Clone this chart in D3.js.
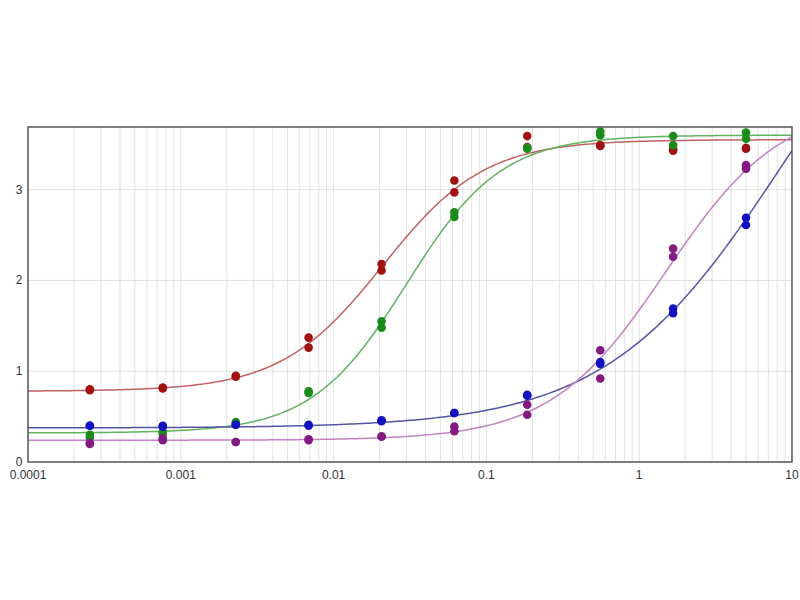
<!DOCTYPE html>
<html><head><meta charset="utf-8">
<script src="https://cdn.jsdelivr.net/npm/d3@7"></script>
<style>body{margin:0;background:#fff}svg{display:block}</style>
</head><body><svg id="c" width="800" height="600"></svg>
<script>
// Concentrations (3-fold dilution series)
const concentrations = [0.000254, 0.000762, 0.00229, 0.00686, 0.0206, 0.0617, 0.185, 0.556, 1.667, 5];
// Replicate readings per series (two per concentration)
const redRep1 = [0.79, 0.82, 0.94, 1.37, 2.18, 3.10, 3.59, 3.48, 3.45, 3.46];
const redRep2 = [0.80, 0.81, 0.95, 1.26, 2.11, 2.97, 3.47, 3.49, 3.43, 3.45];
const greenRep1 = [0.30, 0.33, 0.44, 0.78, 1.55, 2.75, 3.46, 3.64, 3.59, 3.63];
const greenRep2 = [0.27, 0.31, 0.42, 0.76, 1.48, 2.70, 3.45, 3.60, 3.49, 3.56];
const blueRep1 = [0.40, 0.40, 0.41, 0.41, 0.46, 0.54, 0.74, 1.08, 1.69, 2.69];
const blueRep2 = [0.40, 0.39, 0.41, 0.40, 0.45, 0.54, 0.73, 1.10, 1.64, 2.61];
const purpleRep1 = [0.21, 0.26, 0.22, 0.25, 0.28, 0.39, 0.63, 1.23, 2.35, 3.27];
const purpleRep2 = [0.20, 0.24, 0.22, 0.24, 0.28, 0.34, 0.52, 0.92, 2.26, 3.23];
// 4-parameter logistic fit parameters: [bottom, top, EC50, hill]
const redFit = [0.78, 3.55, 0.021, 1.3];
const greenFit = [0.32, 3.60, 0.030, 1.4];
const blueFit = [0.375, 6.255, 9, 0.75];
const purpleFit = [0.24, 3.96, 1.5, 1.15];
const xTicks = [0.0001, 0.001, 0.01, 0.1, 1, 10];
const xTickLabels = ["0.0001", "0.001", "0.01", "0.1", "1", "10"];
const yTicks = [0, 1, 2, 3];

const series = [
  {reps:[redRep1, redRep2], fit:redFit, dot:"#a01212", line:"#c06262"},
  {reps:[greenRep1, greenRep2], fit:greenFit, dot:"#1b8a1b", line:"#62b262"},
  {reps:[blueRep1, blueRep2], fit:blueFit, dot:"#1212c0", line:"#5555a5"},
  {reps:[purpleRep1, purpleRep2], fit:purpleFit, dot:"#821a82", line:"#c482c4"}
];

const L=28, R=792, T=127, B=462;
const svg = d3.select("#c");
const x = d3.scaleLog().domain([0.0001, 10]).range([L, R]);
const y = d3.scaleLinear().domain([0, 3.69]).range([B, T]);

// minor/major vertical grid
const gridX = [];
for (let e=-4; e<1; e++) for (let m=1; m<=9; m++) gridX.push(m*Math.pow(10,e));
svg.append("g").selectAll("line").data(gridX.filter(v=>v>0.0001)).join("line")
  .attr("x1", d=>x(d)).attr("x2", d=>x(d)).attr("y1", T).attr("y2", B)
  .attr("stroke", "#e3e3e3").attr("stroke-width", 1);
svg.append("g").selectAll("line").data(yTicks.filter(v=>v>0)).join("line")
  .attr("x1", L).attr("x2", R).attr("y1", d=>y(d)).attr("y2", d=>y(d))
  .attr("stroke", "#e0e0e0").attr("stroke-width", 1);

// curves
const fourPL = (p, c) => p[0] + (p[1]-p[0]) * Math.pow(c/p[2], p[3]) / (1 + Math.pow(c/p[2], p[3]));
const sampleX = d3.range(0, 301).map(i => Math.pow(10, -4 + 5*i/300));
const line = d3.line().x(d=>x(d[0])).y(d=>y(d[1]));
svg.append("clipPath").attr("id","pc").append("rect").attr("x",L).attr("y",T).attr("width",R-L).attr("height",B-T);
const plot = svg.append("g").attr("clip-path","url(#pc)");
series.forEach(s => {
  plot.append("path").datum(sampleX.map(c => [c, fourPL(s.fit, c)]))
    .attr("d", line).attr("fill","none").attr("stroke", s.line).attr("stroke-width", 1.5);
});
series.forEach(s => {
  s.reps.forEach(rep => {
    plot.append("g").selectAll("circle").data(rep).join("circle")
      .attr("cx", (d,i)=>x(concentrations[i])).attr("cy", d=>y(d)).attr("r", 4.3)
      .attr("fill", s.dot);
  });
});

// frame
svg.append("rect").attr("x",L).attr("y",T).attr("width",R-L).attr("height",B-T)
  .attr("fill","none").attr("stroke","#555").attr("stroke-width",1.5);

// axis labels
svg.append("g").selectAll("text").data(xTicks).join("text")
  .attr("x", d=>x(d)).attr("y", 479).attr("text-anchor","middle")
  .attr("font-family","Liberation Sans, Arial, sans-serif").attr("font-size",12).attr("fill","#333")
  .text((d,i)=>xTickLabels[i]);
svg.append("g").selectAll("text").data(yTicks).join("text")
  .attr("x", 19).attr("y", d=>y(d)+4).attr("text-anchor","middle")
  .attr("font-family","Liberation Sans, Arial, sans-serif").attr("font-size",12).attr("fill","#333")
  .text(d=>d);
</script></body></html>
